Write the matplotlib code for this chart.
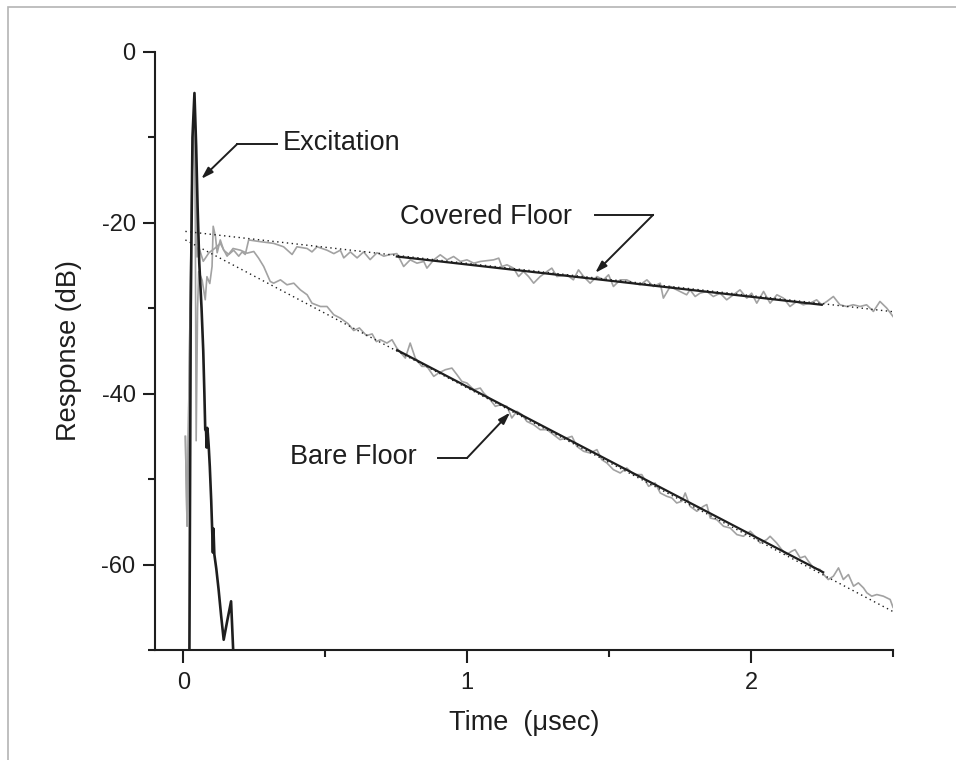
import numpy as np
import matplotlib
matplotlib.use("Agg")
import matplotlib.pyplot as plt
from matplotlib.ticker import MultipleLocator
from matplotlib.patches import Rectangle

plt.rcParams['font.family'] = ['Liberation Sans', 'DejaVu Sans']
plt.rcParams['axes.unicode_minus'] = False

# excitation pulse (black)
exc_t = [0.021, 0.026, 0.032, 0.039, 0.045, 0.050, 0.056, 0.064, 0.070, 0.074,
         0.077, 0.080, 0.082, 0.084, 0.086, 0.089, 0.093, 0.098, 0.101, 0.104,
         0.106, 0.109, 0.116, 0.124, 0.133, 0.142, 0.155, 0.168, 0.178]
exc_db = [-72, -30, -10, -4.8, -11, -18, -24.7, -30, -35, -40,
          -44.2, -44.4, -46.3, -44.0, -44.6, -46, -48.5, -52.5, -55.5, -58.6,
          -55.8, -58.8, -60.5, -62.9, -66, -68.8, -66.5, -64.3, -72]

# covered floor response (grey)
cov_t = [0.007, 0.013, 0.030, 0.038, 0.042, 0.045, 0.050, 0.054, 0.066, 0.077,
         0.083, 0.093, 0.101, 0.105, 0.113, 0.119, 0.130, 0.142, 0.160, 0.177,
         0.195, 0.207, 0.218, 0.230, 0.271, 0.318, 0.353, 0.383, 0.400, 0.436,
         0.453, 0.471, 0.506, 0.530, 0.553, 0.565, 0.588, 0.612, 0.635, 0.658,
         0.682, 0.706, 0.729, 0.752, 0.764, 0.776, 0.799, 0.823, 0.847, 0.858,
         0.882, 0.905, 0.929, 0.952, 0.976, 0.999, 1.023, 1.046, 1.093, 1.111,
         1.122, 1.140, 1.163, 1.181, 1.198, 1.216, 1.234, 1.257, 1.281, 1.298,
         1.316, 1.351, 1.374, 1.392, 1.410, 1.433, 1.457, 1.480, 1.498, 1.515,
         1.539, 1.562, 1.586, 1.609, 1.633, 1.656, 1.680, 1.691, 1.715, 1.738,
         1.773, 1.785, 1.803, 1.820, 1.844, 1.867, 1.891, 1.914, 1.938, 1.961,
         1.985, 2.002, 2.020, 2.044, 2.067, 2.091, 2.114, 2.137, 2.161, 2.184,
         2.208, 2.231, 2.249, 2.267, 2.290, 2.313, 2.337, 2.360, 2.384, 2.407,
         2.431, 2.454, 2.478, 2.500]
cov_db = [-45.0, -55.5, -15.0, -6.0, -20.0, -45.5, -30.0, -25.7, -26.7, -29.0,
          -26.3, -27.1, -25.1, -20.4, -21.6, -23.5, -22.0, -23.2, -23.7, -23.2,
          -23.9, -23.4, -23.7, -22.0, -22.2, -22.4, -22.8, -23.7, -22.8, -23.0,
          -23.4, -22.8, -23.2, -23.6, -23.2, -24.1, -23.4, -24.1, -23.4, -24.3,
          -23.5, -23.9, -23.7, -23.6, -24.33, -25.11, -24.33, -24.72, -24.52, -25.30,
          -24.33, -23.74, -24.33, -23.94, -24.52, -24.33, -24.72, -24.52, -24.33, -24.13,
          -25.11, -24.91, -25.30, -26.28, -25.69, -26.28, -27.06, -26.28, -25.69, -25.30,
          -26.28, -26.08, -26.67, -25.50, -26.28, -27.06, -26.28, -26.67, -26.08, -27.45,
          -26.67, -26.67, -27.06, -27.25, -26.67, -27.45, -27.06, -28.81, -27.45, -27.84,
          -28.42, -27.84, -28.62, -28.23, -28.03, -28.62, -28.23, -29.01, -28.42, -27.84,
          -28.81, -28.23, -29.40, -28.03, -29.40, -28.42, -28.81, -29.79, -29.20, -29.59,
          -29.40, -29.01, -29.59, -29.20, -28.62, -29.59, -29.79, -29.59, -29.79, -29.59,
          -30.37, -29.20, -29.98, -30.96]

# bare floor response (grey)
bare_t = [0.007, 0.013, 0.030, 0.038, 0.048, 0.054, 0.070, 0.090, 0.110, 0.130,
          0.154, 0.175, 0.201, 0.224, 0.248, 0.265, 0.283, 0.306, 0.318, 0.342,
          0.365, 0.389, 0.412, 0.436, 0.453, 0.483, 0.506, 0.530, 0.553, 0.580,
          0.600, 0.620, 0.645, 0.665, 0.680, 0.694, 0.717, 0.735, 0.752, 0.782,
          0.799, 0.817, 0.840, 0.858, 0.882, 0.899, 0.923, 0.946, 0.964, 0.981,
          0.999, 1.023, 1.046, 1.058, 1.081, 1.099, 1.117, 1.140, 1.157, 1.175,
          1.193, 1.210, 1.234, 1.257, 1.281, 1.304, 1.327, 1.351, 1.369, 1.386,
          1.410, 1.433, 1.457, 1.474, 1.492, 1.515, 1.539, 1.562, 1.586, 1.615,
          1.639, 1.662, 1.680, 1.703, 1.721, 1.738, 1.756, 1.768, 1.785, 1.809,
          1.832, 1.844, 1.856, 1.879, 1.903, 1.926, 1.950, 1.973, 1.997, 2.014,
          2.032, 2.055, 2.067, 2.090, 2.108, 2.125, 2.143, 2.155, 2.173, 2.190,
          2.202, 2.220, 2.243, 2.261, 2.272, 2.290, 2.308, 2.325, 2.343, 2.361,
          2.378, 2.396, 2.408, 2.425, 2.443, 2.466, 2.490, 2.500]
bare_db = [-45.0, -55.5, -15.0, -6.0, -24.0, -22.8, -24.5, -23.5, -23.0, -22.4,
           -23.9, -23.0, -23.2, -23.55, -23.35, -24.13, -25.11, -26.86, -27.06, -26.67,
           -27.25, -27.06, -27.84, -28.42, -29.40, -29.79, -29.79, -30.76, -31.15, -31.8,
           -32.6, -32.3, -33.2, -33.0, -33.9, -33.68, -34.07, -33.68, -34.66, -35.83,
           -34.07, -35.83, -36.80, -36.80, -37.97, -37.58, -37.19, -37.00, -37.78, -38.56,
           -38.75, -39.53, -39.34, -39.92, -40.70, -41.48, -41.29, -41.48, -42.84, -42.06,
           -42.46, -43.24, -43.63, -44.21, -44.21, -44.80, -45.38, -45.18, -44.99, -46.16,
           -46.74, -46.94, -46.55, -47.72, -48.11, -48.89, -49.28, -48.69, -49.47, -49.47,
           -50.84, -50.45, -51.62, -52.01, -52.20, -52.79, -52.59, -51.62, -53.18, -53.76,
           -53.18, -52.98, -54.54, -54.74, -55.52, -55.71, -56.49, -56.69, -56.10, -56.69,
           -57.47, -57.08, -56.69, -57.47, -58.25, -58.83, -58.44, -58.25, -59.22, -59.03,
           -59.61, -60.39, -60.58, -61.36, -61.75, -61.36, -60.39, -61.75, -61.17, -62.53,
           -62.14, -62.73, -63.31, -63.70, -63.51, -63.70, -64.09, -65.0]

# straight-line fits: dotted over whole span, solid over fitted range
cov_dot_t = [0.007, 2.5]
cov_dot_db = [-21.0, -30.4]
cov_fit_t = [0.752, 2.249]
cov_fit_db = [-23.94, -29.59]
bare_dot_t = [0.007, 2.5]
bare_dot_db = [-22.0, -65.5]
bare_fit_t = [0.753, 2.254]
bare_fit_db = [-34.9, -60.9]

ink = '#1e1e1e'
grey = '#a2a2a2'

fig = plt.figure(figsize=(9.56, 7.6), dpi=100)
fig.patches.append(Rectangle((8 / 956, -0.1), 1.2, 1.1 - 7 / 760, transform=fig.transFigure,
                             fill=False, edgecolor='#b4b4b4', linewidth=1.2))
ax = fig.add_axes([155 / 956, 110 / 760, 738 / 956, 598 / 760])

ax.plot(cov_t, cov_db, color=grey, lw=1.2)
ax.plot(bare_t, bare_db, color=grey, lw=1.2)
ax.plot(cov_dot_t, cov_dot_db, color=ink, lw=1.0, ls=(0, (1, 2.5)))
ax.plot(bare_dot_t, bare_dot_db, color=ink, lw=1.0, ls=(0, (1, 2.5)))
ax.plot(cov_fit_t, cov_fit_db, color=ink, lw=1.6)
ax.plot(bare_fit_t, bare_fit_db, color=ink, lw=1.6)
ax.plot(exc_t, exc_db, color=ink, lw=1.9)

ax.set_xlim(-0.1, 2.5)
ax.set_ylim(-70, 0)
for s in ('top', 'right'):
    ax.spines[s].set_visible(False)
for s in ('left', 'bottom'):
    ax.spines[s].set_linewidth(1.5)
    ax.spines[s].set_color(ink)
ax.xaxis.set_major_locator(MultipleLocator(1))
ax.xaxis.set_minor_locator(MultipleLocator(0.5))
ax.yaxis.set_major_locator(MultipleLocator(20))
ax.yaxis.set_minor_locator(MultipleLocator(10))
ax.tick_params(which='major', direction='out', length=9, width=1.5, color=ink,
               labelsize=17, labelcolor=ink)
ax.tick_params(which='minor', direction='out', length=5, width=1.5, color=ink)
ax.tick_params(axis='x', which='major', pad=7)
ax.tick_params(axis='y', which='major', pad=5)

ax.set_xlabel('Time  (\u03bcsec)', fontsize=19.5, color=ink, labelpad=11)
ax.set_ylabel('Response (dB)', fontsize=19.5, color=ink, labelpad=14)

arrow = dict(arrowstyle='-|>,head_length=0.7,head_width=0.22', color=ink, lw=1.4,
             shrinkA=0, shrinkB=0)
# Excitation
ax.plot([0.190, 0.331], [-10.76, -10.76], color=ink, lw=1.4)
ax.annotate('', xy=(0.063, -14.85), xytext=(0.190, -10.76), arrowprops=arrow)
ax.text(0.349, -10.7, 'Excitation', fontsize=19.5, color=ink, va='center', ha='left')
# Covered Floor
ax.plot([1.451, 1.655], [-19.06, -19.06], color=ink, lw=1.4)
ax.annotate('', xy=(1.451, -25.85), xytext=(1.655, -19.06), arrowprops=arrow)
ax.text(0.764, -19.3, 'Covered Floor', fontsize=19.5, color=ink, va='center', ha='left')
# Bare Floor
ax.plot([0.898, 1.0], [-47.5, -47.5], color=ink, lw=1.4)
ax.annotate('', xy=(1.151, -42.2), xytext=(1.0, -47.5), arrowprops=arrow)
ax.text(0.377, -47.4, 'Bare Floor', fontsize=19.5, color=ink, va='center', ha='left')

fig.savefig('out.png', dpi=100)
